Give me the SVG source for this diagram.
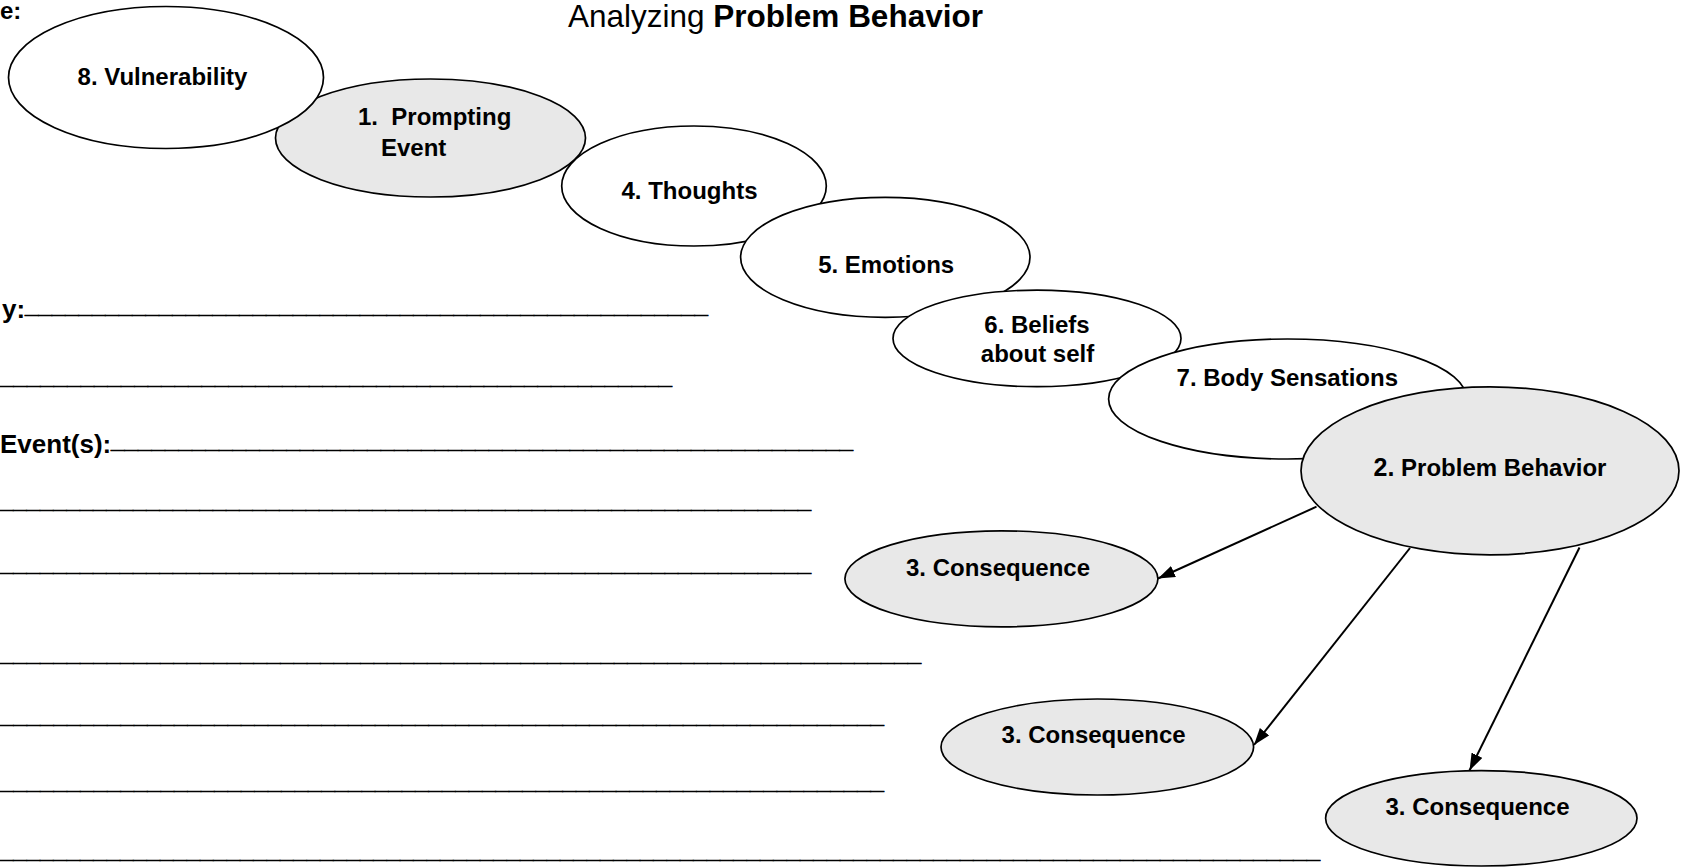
<svg xmlns="http://www.w3.org/2000/svg" width="1687" height="867" viewBox="0 0 1687 867">
<defs>
<style>
.node ellipse{stroke:#000;stroke-width:1.7}
.w{fill:#fff}
.g{fill:#e8e8e8}
text{font-family:"Liberation Sans",Arial,sans-serif;fill:#000}
.lbl{font-weight:bold;font-size:24px}
.flbl{font-weight:bold;font-size:26px}
.c{text-anchor:middle}
.blank{font-weight:bold;font-size:24px;stroke:#000;stroke-width:0.7}
.title{font-size:31.5px}
.pre{white-space:pre}
.conn line{stroke:#000;stroke-width:2}
</style>
<marker id="arr" markerUnits="userSpaceOnUse" markerWidth="18" markerHeight="14" refX="17" refY="6" orient="auto">
<path d="M0,0 L17,6 L0,12 z" fill="#000"/>
</marker>
</defs>
<rect width="1687" height="867" fill="#fff"/>

<g id="header">
<text class="lbl" x="0" y="19">e:</text>
<text class="title" x="568" y="26.5">Analyzing <tspan font-weight="bold">Problem Behavior</tspan></text>
</g>

<g id="form">
<text class="flbl" x="2" y="318">y:</text>
<text class="blank" x="25" y="312.5" textLength="683" lengthAdjust="spacingAndGlyphs">___________________________________________________</text>
<text class="blank" x="0" y="384" textLength="672" lengthAdjust="spacingAndGlyphs">__________________________________________________</text>
<text class="flbl" x="0" y="453">Event(s):</text>
<text class="blank" x="111" y="447.5" textLength="742" lengthAdjust="spacingAndGlyphs">_______________________________________________________</text>
<text class="blank" x="0" y="507.7" textLength="811" lengthAdjust="spacingAndGlyphs">_____________________________________________________________</text>
<text class="blank" x="0" y="571" textLength="811" lengthAdjust="spacingAndGlyphs">_____________________________________________________________</text>
<text class="blank" x="0" y="661" textLength="921" lengthAdjust="spacingAndGlyphs">_____________________________________________________________________</text>
<text class="blank" x="0" y="722.7" textLength="884" lengthAdjust="spacingAndGlyphs">__________________________________________________________________</text>
<text class="blank" x="0" y="789.3" textLength="884" lengthAdjust="spacingAndGlyphs">__________________________________________________________________</text>
<text class="blank" x="0" y="857.7" textLength="1320" lengthAdjust="spacingAndGlyphs">___________________________________________________________________________________________________</text>
</g>

<g id="n1-prompting" class="node">
<ellipse class="g" cx="430.5" cy="138" rx="155" ry="59"/>
<text class="lbl pre" x="358" y="125">1.  Prompting</text>
<text class="lbl" x="381" y="155.5">Event</text>
</g>
<g id="n8-vulnerability" class="node">
<ellipse class="w" cx="166" cy="77.5" rx="157.5" ry="71"/>
<text class="lbl c" x="162.5" y="85">8. Vulnerability</text>
</g>
<g id="n4-thoughts" class="node">
<ellipse class="w" cx="694" cy="186" rx="132.3" ry="60"/>
<text class="lbl c" x="689.5" y="199">4. Thoughts</text>
</g>
<g id="n5-emotions" class="node">
<ellipse class="w" cx="885.3" cy="257.3" rx="144.7" ry="60"/>
<text class="lbl c" x="886.2" y="273.3">5. Emotions</text>
</g>
<g id="n6-beliefs" class="node">
<ellipse class="w" cx="1037" cy="338.4" rx="144" ry="48.3"/>
<text class="lbl c" x="1037" y="333.3">6. Beliefs</text>
<text class="lbl c" x="1037.5" y="361.7">about self</text>
</g>
<g id="n7-body" class="node">
<ellipse class="w" cx="1287.6" cy="399" rx="179" ry="60"/>
<text class="lbl c" x="1287.3" y="386">7. Body Sensations</text>
</g>
<g id="n2-problem" class="node">
<ellipse class="g" cx="1490" cy="470.8" rx="189" ry="84"/>
<text class="lbl c" x="1490" y="476"><tspan font-size="25px">2.</tspan> Problem Behavior</text>
</g>
<g id="n3a-consequence" class="node">
<ellipse class="g" cx="1001.4" cy="578.8" rx="156.5" ry="48"/>
<text class="lbl c" x="998" y="575.7">3. Consequence</text>
</g>
<g id="n3b-consequence" class="node">
<ellipse class="g" cx="1097.3" cy="747" rx="156.3" ry="48"/>
<text class="lbl c" x="1093.6" y="742.7">3. Consequence</text>
</g>
<g id="n3c-consequence" class="node">
<ellipse class="g" cx="1481.3" cy="818.3" rx="155.7" ry="47.7"/>
<text class="lbl c" x="1477.5" y="815">3. Consequence</text>
</g>

<g id="connectors" class="conn">
<line x1="1316.5" y1="506.7" x2="1158" y2="578.5" marker-end="url(#arr)"/>
<line x1="1410" y1="548" x2="1254" y2="745" marker-end="url(#arr)"/>
<line x1="1579.5" y1="547.5" x2="1469.5" y2="770.5" marker-end="url(#arr)"/>
</g>
</svg>
